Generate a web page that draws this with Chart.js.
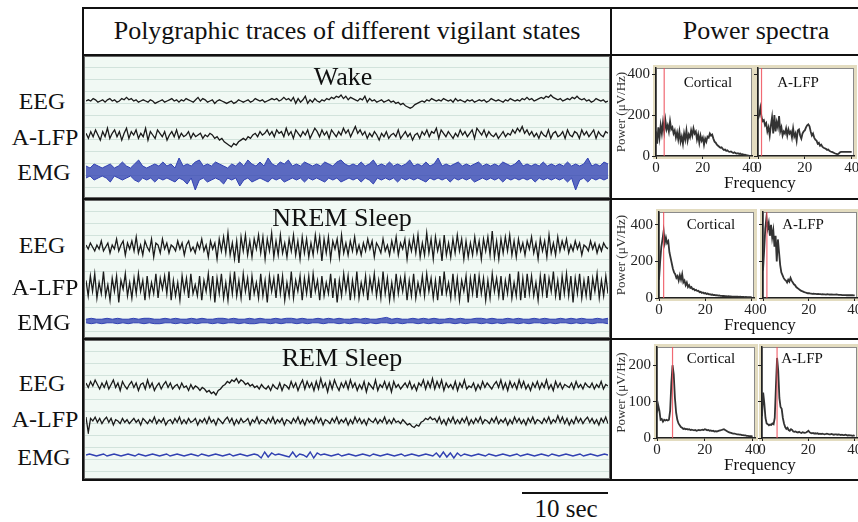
<!DOCTYPE html>
<html>
<head>
<meta charset="utf-8">
<script src="https://cdn.jsdelivr.net/npm/chart.js@4.4.1/dist/chart.umd.min.js"></script>
<style>
  html, body { margin:0; padding:0; overflow:hidden; background:#fff; }
  body { width:858px; height:522px; position:relative; font-family:"Liberation Serif", "Times New Roman", serif; color:#111; }
  .line { position:absolute; background:#111; z-index:3; }
  .panel { position:absolute; left:84px; width:526px; background-color:#f1f9f4;
           background-image:repeating-linear-gradient(to bottom, transparent 0px, transparent 11px, #d2e3dc 11px, #d2e3dc 12px);
           box-shadow: inset 0 0 0 1px #666; }
  .txt { position:absolute; white-space:nowrap; transform:translate(-50%, -50%); z-index:4; }
  canvas { position:absolute; z-index:1; }
</style>
</head>
<body>

<div class="panel" style="top:56px;height:142px"></div>
<div class="panel" style="top:200px;height:138px"></div>
<div class="panel" style="top:340px;height:139px"></div>

<div class="line" style="left:82px;top:7px;width:790px;height:2px"></div>
<div class="line" style="left:82px;top:54px;width:790px;height:2px"></div>
<div class="line" style="left:82px;top:198px;width:790px;height:2px"></div>
<div class="line" style="left:82px;top:338px;width:790px;height:2px"></div>
<div class="line" style="left:82px;top:479px;width:790px;height:2px"></div>
<div class="line" style="left:82px;top:7px;width:2px;height:474px"></div>
<div class="line" style="left:610px;top:7px;width:2px;height:474px"></div>

<div class="txt" style="left:347px;top:31px;font-size:26px">Polygraphic traces of different vigilant states</div>
<div class="txt" style="left:756px;top:31px;font-size:26px">Power spectra</div>

<div class="txt" style="left:343px;top:77px;font-size:26px">Wake</div>
<div class="txt" style="left:342px;top:218px;font-size:26px">NREM Sleep</div>
<div class="txt" style="left:342px;top:358px;font-size:26px">REM Sleep</div>

<div class="txt" style="left:42px;top:101px;font-size:24px">EEG</div>
<div class="txt" style="left:45px;top:137px;font-size:24px">A-LFP</div>
<div class="txt" style="left:44px;top:172px;font-size:24px">EMG</div>
<div class="txt" style="left:42px;top:245px;font-size:24px">EEG</div>
<div class="txt" style="left:45px;top:287px;font-size:24px">A-LFP</div>
<div class="txt" style="left:44px;top:322px;font-size:24px">EMG</div>
<div class="txt" style="left:42px;top:383px;font-size:24px">EEG</div>
<div class="txt" style="left:45px;top:419px;font-size:24px">A-LFP</div>
<div class="txt" style="left:44px;top:457px;font-size:24px">EMG</div>

<div class="txt" style="left:708px;top:82px;font-size:15px">Cortical</div>
<div class="txt" style="left:798px;top:82px;font-size:15px">A-LFP</div>
<div class="txt" style="left:711px;top:224px;font-size:15px">Cortical</div>
<div class="txt" style="left:803px;top:224px;font-size:15px">A-LFP</div>
<div class="txt" style="left:711px;top:358px;font-size:15px">Cortical</div>
<div class="txt" style="left:802px;top:358px;font-size:15px">A-LFP</div>

<div class="txt" style="left:760px;top:183px;font-size:17px">Frequency</div>
<div class="txt" style="left:760px;top:325px;font-size:17px">Frequency</div>
<div class="txt" style="left:760px;top:465px;font-size:17px">Frequency</div>

<div class="line" style="left:522px;top:492px;width:86px;height:2px"></div>
<div class="txt" style="left:566px;top:509px;font-size:25px">10 sec</div>

<script>
// ---------- TRACES (arbitrary units) ----------
const wakeEEG = [
 0,1,0,2,1,-1,0,1,-1,1,2,0,1,-1,0,2,1,3,1,2,
 0,1,-1,0,1,0,-1,1,0,-2,-1,0,1,-1,0,1,2,0,1,-1,
 1,0,2,1,0,-1,1,3,0,2,1,-1,0,1,-2,0,1,0,-1,-2,
 -1,0,-2,-1,1,0,-1,0,1,-1,0,2,1,0,1,-1,0,1,2,1,
 2,0,1,3,1,2,0,3,-2,2,-1,1,4,-2,1,-1,2,0,-1,1,
 0,2,1,3,2,4,3,5,2,4,1,3,2,1,0,2,1,4,-1,2,
 0,1,-1,0,1,-1,0,1,-1,0,-2,-1,-3,-2,-4,-5,-6,-5,-3,-2,
 -1,0,-1,1,0,2,1,0,1,0,2,1,0,1,-1,2,0,1,0,-1,
 1,0,1,-1,0,1,0,1,-1,0,2,1,0,1,0,-1,1,0,2,1,
 0,1,0,2,1,3,1,2,0,1,2,3,2,4,3,5,3,2,1,2,
 0,1,2,1,3,2,4,2,1,2,0,1,-1,0,2,1,0,1,-1,0];
const wakeLFP = [
 1,-2,2,-1,3,0,-3,2,-1,4,-2,1,3,-1,2,-3,1,4,-2,2,
 0,3,-2,1,-1,4,-3,2,0,-2,3,1,-1,2,-3,0,2,-1,3,-2,
 1,-1,0,2,-2,1,-1,0,1,-2,0,-1,1,0,-2,-1,-3,-2,-4,-5,
 -6,-7,-5,-6,-4,-3,-2,-3,-1,-2,0,1,-1,2,0,1,3,0,2,-1,
 3,1,2,-1,4,0,2,-2,3,1,-1,2,0,3,-2,1,4,2,-1,3,
 0,2,-2,3,1,-1,2,0,4,1,3,-1,2,5,1,3,0,2,-2,1,
 -1,2,0,-3,1,-1,2,-2,0,1,-1,3,-2,0,2,-1,1,-3,0,1,
 -2,2,0,3,-1,2,1,4,-2,3,1,-1,2,0,-2,1,-1,3,0,2,
 -1,1,3,-2,4,2,0,3,-1,2,0,-1,1,-2,0,2,-1,1,0,3,
 1,4,2,5,1,3,0,2,-1,1,-2,2,0,-1,3,-2,1,2,-1,0,
 2,-2,3,0,-1,2,1,-2,3,0,2,-1,1,3,-2,2,0,-1,2,1];
// EMG drawn as an envelope (upper / lower edge of the dense band)
const wakeEmgTop = [
 3,2,4,3,2,3,4,2,3,5,3,2,4,6,3,2,3,4,3,5,
 3,4,2,7,3,4,3,5,6,3,4,3,5,4,3,2,4,3,5,3,
 6,4,3,5,3,7,4,3,5,4,6,3,4,3,5,4,3,4,3,5,
 4,3,5,6,4,3,4,3,5,3,4,6,3,4,3,5,3,4,3,4,
 6,3,4,3,5,3,4,7,3,4,3,4,5,3,4,3,4,5,3,4,
 3,4,3,5,4,3,4,6,3,4,3,4,3,5,3,4,3,4,3,5,
 3,4,3,4,7,3,4,3,5,4];
const wakeEmgBot = [
 -3,-2,-4,-3,-2,-3,-5,-2,-3,-4,-3,-2,-4,-5,-3,-4,-3,-5,-3,-4,
 -3,-4,-5,-3,-4,-6,-3,-9,-4,-3,-5,-4,-3,-4,-6,-3,-4,-3,-7,-4,
 -3,-5,-4,-3,-4,-5,-3,-4,-3,-5,-4,-3,-4,-3,-5,-3,-4,-3,-4,-5,
 -3,-4,-3,-5,-4,-3,-4,-3,-5,-3,-4,-6,-3,-4,-3,-4,-3,-5,-3,-4,
 -3,-4,-3,-4,-5,-3,-4,-3,-4,-3,-5,-3,-4,-3,-4,-3,-5,-4,-3,-4,
 -3,-4,-3,-5,-3,-4,-3,-4,-3,-4,-3,-5,-3,-4,-3,-4,-3,-4,-3,-5,
 -3,-9,-4,-3,-5,-3,-4,-3,-4,-3];

const nremEEG = [
 1,-1,2,0,-2,1,-1,3,-2,0,2,-3,1,-1,4,-2,1,3,-4,2,
 -1,3,-2,5,-3,1,-4,3,0,-2,4,-5,2,1,-3,4,-1,2,-3,1,
 0,-2,3,-1,2,-4,1,3,-2,0,-3,2,-1,4,-2,1,-5,3,-1,2,
 -6,4,-2,5,-3,7,-4,2,-6,3,-8,5,-2,6,-4,3,-5,4,-1,6,
 -3,5,-6,4,-2,7,-5,3,-4,6,-3,2,-5,4,-2,6,-4,3,-6,5,
 -3,4,-5,2,-4,6,-2,5,-7,4,-3,5,-6,3,-1,4,-5,6,-3,2,
 -4,3,-2,5,-3,1,-4,2,-2,4,-1,3,-5,2,0,-3,4,-2,1,-4,
 3,-2,5,-4,2,-1,4,-6,3,-2,5,-3,6,-5,2,-4,7,-3,4,-6,
 5,-2,3,-7,6,-4,2,-5,4,-3,6,-2,4,-6,3,-5,2,-4,5,-3,
 3,-6,4,-2,5,-4,8,-5,3,-6,4,-3,5,-2,6,-4,3,-5,4,-2,
 2,-4,3,-1,5,-3,2,-6,4,-2,3,-5,6,-3,2,-4,5,-2,3,-1,
 4,-3,1,-2,3,-1,2,-4,1,0,-2,3,-1,2,-3,1,-2,2,0,-1];
const nremLFP = [
 3,-4,5,-2,6,-5,2,-3,7,-4,1,-6,4,-2,5,-7,3,-1,6,-4,
 2,-5,4,-3,6,-2,3,-6,5,-4,2,-3,6,-5,4,-1,5,-3,7,-6,
 3,-4,2,-6,5,-2,4,-5,6,-3,1,-4,5,-6,3,-2,6,-4,5,-7,
 4,-3,6,-5,2,-6,5,-3,7,-4,3,-5,6,-2,4,-6,5,-3,2,-5,
 6,-4,3,-7,5,-2,4,-5,6,-3,5,-6,2,-4,7,-5,3,-2,5,-6,
 4,-3,5,-5,6,-2,3,-6,5,-4,2,-3,6,-5,4,-7,3,-4,6,-2,
 5,-6,3,-4,7,-5,2,-3,5,-6,4,-2,6,-4,3,-5,7,-3,4,-6,
 2,-5,6,-3,4,-2,5,-6,3,-4,6,-5,2,-3,5,-4,6,-2,4,-5,
 3,-6,5,-4,7,-3,2,-5,6,-4,4,-6,3,-2,5,-7,4,-3,6,-5,
 5,-3,4,-6,3,-5,6,-2,4,-4,5,-6,3,-3,6,-5,2,-4,7,-6,
 4,-5,6,-3,5,-4,2,-6,5,-3,6,-5,4,-2,7,-4,3,-6,5,-3,
 6,-4,5,-7,4,-3,6,-5,3,-4,5,-6,4,-2,6,-5,3,-4,5,-3];
const nremEmgTop = [
 2,3,2,2,3,2,3,2,2,3,2,3,3,2,2,3,2,3,2,2,
 3,2,3,2,2,3,3,2,3,2,2,3,2,3,2,2,3,2,3,3,
 2,3,2,2,3,2,3,2,3,2,2,3,2,3,2,2,3,4,2,3,
 2,2,3,2,3,2,3,2,2,3,2,3,2,2,3,3,2,3,2,2,
 3,2,3,2,2,3,2,3,2,2,3,2,3,2,3,2,2,3,2,3];
const nremEmgBot = [
 -2,-3,-2,-3,-2,-2,-3,-2,-3,-2,-2,-3,-2,-3,-3,-2,-2,-3,-2,-3,
 -2,-3,-2,-2,-3,-2,-3,-2,-2,-3,-2,-3,-3,-2,-2,-3,-2,-3,-2,-2,
 -3,-2,-3,-2,-2,-3,-2,-2,-3,-2,-3,-2,-2,-3,-2,-3,-2,-2,-3,-2,
 -3,-2,-2,-3,-2,-3,-2,-3,-2,-2,-3,-2,-3,-2,-2,-3,-2,-3,-2,-3,
 -2,-2,-3,-2,-3,-2,-2,-3,-2,-3,-2,-2,-3,-2,-3,-2,-3,-2,-2,-3];

const remEEG = [
 2,-1,3,0,4,1,-2,2,-1,3,-2,1,4,-1,2,-3,3,0,-2,1,
 3,-1,2,-3,1,2,-2,4,-1,2,-3,0,2,-2,1,3,-1,2,-2,0,
 1,-2,2,-1,0,-3,1,-2,0,-1,-3,-1,-2,-4,-3,-5,-4,-6,-3,-2,
 0,1,3,2,4,3,5,2,4,3,1,2,0,1,-1,0,-2,1,-1,-2,
 0,-3,1,-1,-2,2,-3,1,0,-2,3,-1,2,-3,1,4,-2,3,-1,2,
 -3,3,-2,5,-1,2,-4,3,-2,4,0,-3,2,-1,3,-2,4,-1,2,-3,
 1,-2,3,-4,2,0,-2,4,-3,1,-1,3,-2,2,-4,3,-1,1,-2,0,
 2,-1,3,-2,1,-3,2,0,4,-2,3,-1,5,-2,3,-1,4,-3,2,-1,
 1,-2,3,-3,2,-1,4,-2,0,-1,2,-3,1,-2,3,-1,2,0,-2,1,
 3,-1,4,-2,2,-3,3,-1,2,-2,4,-1,3,-2,1,-3,2,-1,3,-2,
 2,-1,4,-2,1,-3,3,-1,2,-2,1,0,-1,2,-2,3,-1,1,-2,2,
 0,-1,2,-2,1,-1,3,-2,1,0];
const remLFP = [
 3,-9,2,0,3,-1,2,-2,1,3,-1,2,-3,1,0,-2,2,-1,1,-2,
 0,2,-1,1,-3,2,0,-2,1,-1,3,-2,1,-1,2,-3,0,1,-2,2,
 -1,3,-2,1,-2,2,-1,0,2,-3,1,-1,2,-2,3,-1,1,-3,2,0,
 -2,1,3,-1,2,-3,1,-2,2,-1,0,2,-3,1,-1,3,-2,1,0,-2,
 2,-1,3,-2,1,-1,2,-3,1,0,-2,2,-1,3,-2,1,-3,2,-1,1,
 -2,3,-1,2,-3,1,0,-2,2,-1,3,-2,1,-1,2,-3,1,-2,3,-1,
 2,-2,1,-3,2,0,-1,2,-2,1,-1,3,-2,1,-2,2,-1,0,-2,1,
 -1,-3,-2,-4,-5,-3,-4,-1,0,2,1,3,1,2,-1,3,-2,1,-3,2,
 -1,3,-2,1,-2,2,-1,3,-3,1,-2,2,-1,3,-2,1,0,-2,2,-1,
 3,-2,1,-1,2,-3,1,-2,3,-1,2,-2,1,-3,2,-1,3,-2,1,0,
 -2,2,-1,3,-2,1,-1,4,-1,3,-2,2,-3,1,-2,3,-1,2,-2,1,
 3,-1,2,-2,1,-3,2,-1,3,-2];
const remEMG = [0,1,0,-1,0,1,-1,0,1,0,-1,0,1,0,-1,1,0,-1,0,1,0,-1,0,1,-1,0,1,0,-1,0,1,0,-1,1,0,-1,0,1,0,-1,0,1,-1,0,1,0,-1,0,1,0,-3,3,-2,2,0,1,0,-1,-2,3,-2,1,0,-2,3,-3,2,0,1,0,-1,0,1,-1,0,1,0,-1,0,1,0,-1,1,0,-1,0,1,0,-1,0,1,-1,0,1,0,-1,0,1,0,-1,2,-2,3,-2,2,-3,2,-1,1,0,-1,0,1,0,-1,1,0,-1,0,1,0,-1,0,1,-1,0,1,0,-1,0,1,0,-1,1,0,-1,0,1,0,-1,0,1,-1,0,1,0,-1,0,1,0];

// ---------- POWER SPECTRA ----------
const freq = [0,0.5,1,1.5,2,2.5,3,3.5,4,4.5,5,5.5,6,6.5,7,7.5,8,8.5,9,9.5,10,10.5,11,11.5,12,12.5,13,13.5,14,14.5,15,15.5,16,16.5,17,17.5,18,18.5,19,19.5,20,20.5,21,21.5,22,22.5,23,23.5,24,24.5,25,25.5,26,26.5,27,27.5,28,28.5,29,29.5,30,30.5,31,31.5,32,32.5,33,33.5,34,34.5,35,35.5,36,36.5,37,37.5,38,38.5,39,39.5,40];
const freqTicks = [0, 20, 40];

const wakeCort = [120,60,140,90,150,110,165,120,175,130,150,120,170,130,140,110,125,90,115,80,120,70,95,60,110,80,125,75,105,90,125,100,135,110,120,80,105,65,100,75,90,55,85,70,95,90,110,100,105,85,70,65,55,50,45,40,42,35,30,32,25,28,22,20,22,18,15,18,14,12,14,10,12,8,9,6,7,4,3,2,1];
const wakeLfpSp = [180,200,235,190,170,175,150,160,120,140,100,150,190,110,200,120,165,140,195,120,140,100,120,110,135,100,130,110,120,90,135,95,110,75,125,130,100,85,110,120,125,140,150,155,145,120,100,110,90,80,75,60,65,50,55,45,40,38,35,30,32,25,22,20,18,15,12,10,8,12,18,20,20,20,20,20,20,20,20,20,20];
const nremCort = [100,200,280,320,365,300,330,300,310,250,220,190,160,140,130,110,120,95,125,100,130,85,95,70,85,60,70,55,60,48,50,42,45,38,40,32,34,28,30,25,27,22,24,20,21,18,19,16,17,14,15,13,14,12,12,11,11,10,10,9,10,9,9,8,8,8,7,7,7,6,7,6,6,6,5,6,5,5,5,5,5];
const nremLfpSp = [150,260,380,440,380,410,340,400,330,370,280,340,200,320,250,180,140,125,110,100,95,85,100,90,110,95,85,75,70,60,55,50,45,40,38,35,32,30,28,26,27,25,24,23,24,22,22,21,22,21,21,20,21,20,20,19,21,20,19,19,20,19,18,18,19,18,17,17,17,16,16,16,16,15,15,15,15,15,15,14,14];
const remCort = [70,90,75,50,52,45,50,48,50,48,50,75,150,200,175,110,70,50,40,35,30,28,25,26,24,25,23,24,22,23,22,21,22,20,21,22,21,22,23,22,24,23,21,22,20,21,19,20,18,19,18,19,20,21,22,23,24,22,20,18,16,15,14,13,12,12,11,10,10,9,9,8,8,7,7,6,6,5,5,5,4];
const remLfpSp = [60,125,95,55,40,38,35,37,36,40,38,55,140,220,185,110,85,80,55,40,30,25,28,22,20,24,22,18,17,18,16,15,17,15,14,16,15,14,15,17,20,16,14,13,14,12,13,12,13,11,12,11,12,11,10,11,12,11,10,10,11,10,9,10,10,9,10,9,8,9,8,8,9,8,7,8,7,7,6,7,6];

// red marker frequencies (Hz)
const markers = { wakeCort: 3.5, wakeLfp: 1.5, nremCort: 2, nremLfp: 1.7, remCort: 6.5, remLfp: 6.5 };

const wakeTicks = [0, 200, 400];
const nremTicks = [0, 200, 400];
const remTicks  = [0, 100, 200];

// ---------- LAYOUT ----------
const FONT = "'Liberation Serif', 'Times New Roman', serif";
const TRACE_LEFT = 86, TRACE_W = 522;
const BLACK = "#1a1a1a", BLUE = "#3141b2";

function makeCanvas(x, y, w, h) {
    const c = document.createElement("canvas");
    c.width = w; c.height = h;
    c.style.left = x + "px"; c.style.top = y + "px";
    document.body.appendChild(c);
    return c;
}

const traceOptions = {
    responsive: false, animation: false, events: [],
    layout: { padding: 0 },
    plugins: { legend: { display: false }, tooltip: { enabled: false } },
    scales: { x: { display: false }, y: { display: false, min: -10, max: 10 } }
};

function trace(values, top, height, color, width) {
    const c = makeCanvas(TRACE_LEFT, top, TRACE_W, height);
    new Chart(c, {
        type: "line",
        data: {
            labels: values.map((_, i) => i),
            datasets: [{ data: values, borderColor: color, borderWidth: width || 1.3, pointRadius: 0, tension: 0 }]
        },
        options: traceOptions
    });
}

// dense EMG band: upper edge and lower edge, filled in between
function band(upper, lower, top, height, color) {
    const c = makeCanvas(TRACE_LEFT, top, TRACE_W, height);
    new Chart(c, {
        type: "line",
        data: {
            labels: upper.map((_, i) => i),
            datasets: [
                { data: upper, borderColor: color, borderWidth: 1, pointRadius: 0, tension: 0, fill: false },
                { data: lower, borderColor: color, borderWidth: 1, pointRadius: 0, tension: 0, fill: "-1", backgroundColor: "rgba(49,65,178,0.78)" }
            ]
        },
        options: traceOptions
    });
}

trace(wakeEEG, 89, 24, BLACK);
trace(wakeLFP, 118, 34, BLACK);
band(wakeEmgTop, wakeEmgBot, 152, 40, BLUE);
trace(nremEEG, 227, 40, BLACK);
trace(nremLFP, 265, 44, BLACK);
band(nremEmgTop, nremEmgBot, 312, 18, BLUE);
trace(remEEG, 371, 30, BLACK);
trace(remLFP, 408, 26, BLACK);
trace(remEMG, 445, 20, BLUE, 1.4);

// beige frame round each spectrum plot
const framePlugin = {
    id: "frame",
    beforeDraw(chart) {
        const a = chart.chartArea, ctx = chart.ctx;
        ctx.save();
        ctx.fillStyle = "#ffffff";
        ctx.fillRect(a.left, a.top, a.right - a.left, a.bottom - a.top);
        ctx.strokeStyle = "#e3dcc0";
        ctx.lineWidth = 4;
        ctx.strokeRect(a.left - 1, a.top - 1, a.right - a.left + 2, a.bottom - a.top + 2);
        ctx.strokeStyle = "#8a8a8a";
        ctx.lineWidth = 1;
        ctx.strokeRect(a.left + 0.5, a.top + 0.5, a.right - a.left - 1, a.bottom - a.top - 1);
        ctx.restore();
    }
};

function spectrum(opts) {
    const { values, marker, yMax, yTicks, plotL, plotR, plotT, plotB, canvasL, canvasR, labels } = opts;
    const padTop = 10;
    const c = makeCanvas(canvasL, plotT - padTop, canvasR - canvasL, plotB - plotT + padTop + 20);
    new Chart(c, {
        type: "line",
        data: {
            datasets: [
                { data: [{ x: marker, y: 0 }, { x: marker, y: yMax }], borderColor: "rgba(238,80,90,0.85)", borderWidth: 1.2, pointRadius: 0 },
                { data: freq.map((f, i) => ({ x: f, y: values[i] })), borderColor: "#333", borderWidth: 1.8, pointRadius: 0, tension: 0 }
            ]
        },
        options: {
            responsive: false, animation: false, events: [],
            layout: { padding: { top: padTop, right: canvasR - plotR, left: 0, bottom: 0 } },
            plugins: { legend: { display: false }, tooltip: { enabled: false } },
            scales: {
                x: {
                    type: "linear", min: 0, max: 41,
                    afterBuildTicks: s => { s.ticks = freqTicks.map(v => ({ value: v })); },
                    afterFit: s => { s.height = 20; },
                    ticks: { font: { family: FONT, size: 15 }, color: "#222", padding: 0, maxRotation: 0, autoSkip: false },
                    grid: { drawOnChartArea: false, tickLength: 3, color: "#222" },
                    border: { color: "#222", width: 1.5 }
                },
                y: {
                    min: 0, max: yMax,
                    afterBuildTicks: s => { s.ticks = yTicks.map(v => ({ value: v })); },
                    afterFit: s => { s.width = plotL - canvasL; },
                    ticks: {
                        font: { family: FONT, size: 15 }, color: "#222", padding: 2,
                        callback: v => labels ? v : ""
                    },
                    grid: { drawOnChartArea: false, tickLength: 4, color: "#222" },
                    border: { color: "#222", width: 1.5 },
                    title: { display: labels, text: "Power (μV/Hz)", font: { family: FONT, size: 13 }, color: "#333", padding: { top: 2, bottom: 0 } }
                }
            }
        },
        plugins: [framePlugin]
    });
}

const rows = [
    { cort: wakeCort, lfp: wakeLfpSp, mc: markers.wakeCort, ml: markers.wakeLfp, yMax: 430, ticks: wakeTicks,
      top: 67, bottom: 156, cL: 656, cR: 752, lL: 758, lR: 854 },
    { cort: nremCort, lfp: nremLfpSp, mc: markers.nremCort, ml: markers.nremLfp, yMax: 470, ticks: nremTicks,
      top: 211, bottom: 298, cL: 659, cR: 754, lL: 763, lR: 857 },
    { cort: remCort, lfp: remLfpSp, mc: markers.remCort, ml: markers.remLfp, yMax: 250, ticks: remTicks,
      top: 346, bottom: 438, cL: 657, cR: 755, lL: 762, lR: 857 }
];

rows.forEach(r => {
    spectrum({ values: r.cort, marker: r.mc, yMax: r.yMax, yTicks: r.ticks, plotL: r.cL, plotR: r.cR,
               plotT: r.top, plotB: r.bottom, canvasL: 612, canvasR: r.cR + 10, labels: true });
    spectrum({ values: r.lfp, marker: r.ml, yMax: r.yMax, yTicks: r.ticks, plotL: r.lL, plotR: r.lR,
               plotT: r.top, plotB: r.bottom, canvasL: r.lL - 8, canvasR: 875, labels: false });
});
</script>
</body>
</html>
